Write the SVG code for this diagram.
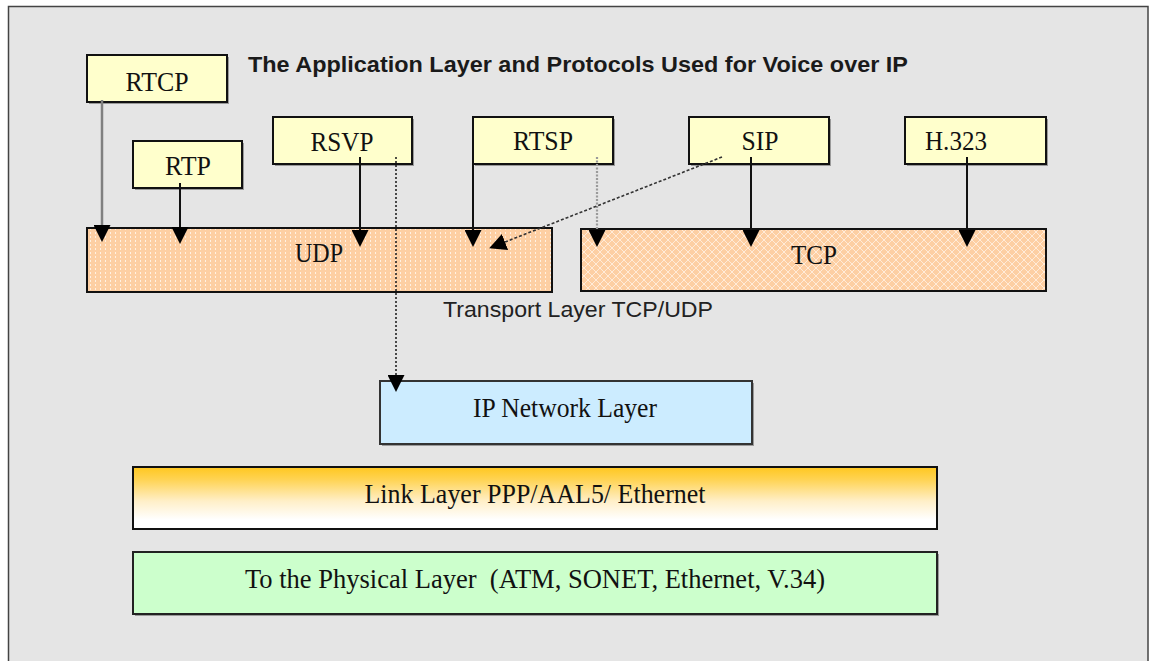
<svg xmlns="http://www.w3.org/2000/svg" width="1149" height="661" viewBox="0 0 1149 661">
  <style>
    .app { fill: #FFFFCC; stroke: #111; stroke-width: 2; }
    .sh { fill: #9a9a9a; }
    .lbl { font-family: "Liberation Serif", "Times New Roman", serif; font-size: 27px; fill: #111; text-anchor: middle; }
    .solid { stroke: #111; stroke-width: 2; fill: none; marker-end: url(#head); }
    .dot { stroke: #222; stroke-width: 1.6; stroke-dasharray: 2 2; fill: none; marker-end: url(#head); }
    .dotgray { stroke: #9a9a9a; stroke-width: 2.2; stroke-dasharray: 2 1.5; fill: none; marker-end: url(#head); }
    .dash { stroke: #333; stroke-width: 1.6; stroke-dasharray: 3 2; fill: none; marker-end: url(#head); }
  </style>
  <defs>
    <marker id="head" viewBox="0 0 17 17" refX="0" refY="8.5" markerWidth="17" markerHeight="17" markerUnits="userSpaceOnUse" orient="auto">
      <path d="M0,0 L17,8.5 L0,17 z" fill="#000"/>
    </marker>
    <!-- UDP fill: peach with fine vertical dotted lines -->
    <pattern id="udpFill" width="5" height="4" patternUnits="userSpaceOnUse">
      <rect width="5" height="4" fill="#FDCFA3"/>
      <rect x="0" y="0" width="1" height="2" fill="#FFF1E2"/>
    </pattern>
    <!-- TCP fill: peach with a light diamond lattice -->
    <pattern id="tcpFill" width="8" height="8" patternUnits="userSpaceOnUse">
      <rect width="8" height="8" fill="#FDCFA3"/>
      <path d="M0,4 L4,0 L8,4 L4,8 z" fill="none" stroke="#FFEBD8" stroke-width="1"/>
    </pattern>
    <linearGradient id="linkGrad" x1="0" y1="0" x2="0" y2="1">
      <stop offset="0" stop-color="#FFC71F"/>
      <stop offset="0.2" stop-color="#FFD352"/>
      <stop offset="0.55" stop-color="#FFEFC8"/>
      <stop offset="0.85" stop-color="#FFFFFF"/>
      <stop offset="1" stop-color="#FFFFFF"/>
    </linearGradient>
  </defs>

  <!-- page and frame -->
  <rect width="1149" height="661" fill="#FFFFFF"/>
  <rect x="8.5" y="6.5" width="1139.5" height="700" fill="#E5E5E5" stroke="#444" stroke-width="1.5"/>

  <!-- titles -->
  <text x="248" y="72" font-family="Liberation Sans, Arial, sans-serif" font-weight="bold" font-size="22" fill="#1a1a1a" textLength="660" lengthAdjust="spacingAndGlyphs">The Application Layer and Protocols Used for Voice over IP</text>
  <text x="443" y="317" font-family="Liberation Sans, Arial, sans-serif" font-size="22" fill="#222" textLength="270" lengthAdjust="spacingAndGlyphs">Transport Layer TCP/UDP</text>

  <!-- application protocols -->
  <g id="rtcp">
    <rect class="sh" x="89" y="57" width="140" height="47"/>
    <rect class="app" x="87" y="55" width="140" height="47"/>
    <text class="lbl" x="157" y="91" textLength="63" lengthAdjust="spacingAndGlyphs">RTCP</text>
  </g>
  <g id="rtp">
    <rect class="sh" x="135" y="143" width="109" height="47"/>
    <rect class="app" x="133" y="141" width="109" height="47"/>
    <text class="lbl" x="188" y="175" textLength="46" lengthAdjust="spacingAndGlyphs">RTP</text>
  </g>
  <g id="rsvp">
    <rect class="sh" x="275" y="119" width="139" height="47"/>
    <rect class="app" x="273" y="117" width="139" height="47"/>
    <text class="lbl" x="342" y="151" textLength="63" lengthAdjust="spacingAndGlyphs">RSVP</text>
  </g>
  <g id="rtsp">
    <rect class="sh" x="475" y="119" width="140" height="47"/>
    <rect class="app" x="473" y="117" width="140" height="47"/>
    <text class="lbl" x="543" y="150" textLength="60" lengthAdjust="spacingAndGlyphs">RTSP</text>
  </g>
  <g id="sip">
    <rect class="sh" x="691" y="119" width="140" height="47"/>
    <rect class="app" x="689" y="117" width="140" height="47"/>
    <text class="lbl" x="760" y="150" textLength="37" lengthAdjust="spacingAndGlyphs">SIP</text>
  </g>
  <g id="h323">
    <rect class="sh" x="907" y="119" width="141" height="47"/>
    <rect class="app" x="905" y="117" width="141" height="47"/>
    <text class="lbl" x="956" y="150" textLength="62" lengthAdjust="spacingAndGlyphs">H.323</text>
  </g>

  <!-- transport layer -->
  <g id="udp">
    <rect x="87" y="228" width="465" height="64" fill="url(#udpFill)" stroke="#111" stroke-width="2"/>
    <text class="lbl" x="319" y="262" textLength="48" lengthAdjust="spacingAndGlyphs">UDP</text>
  </g>
  <g id="tcp">
    <rect x="581" y="229" width="465" height="62" fill="url(#tcpFill)" stroke="#111" stroke-width="2"/>
    <text class="lbl" x="814" y="264" textLength="46" lengthAdjust="spacingAndGlyphs">TCP</text>
  </g>

  <!-- lower layers -->
  <g id="ip">
    <rect class="sh" x="382" y="383" width="372" height="63"/>
    <rect x="380" y="381" width="372" height="63" fill="#CCECFF" stroke="#333" stroke-width="2"/>
    <text class="lbl" x="565" y="417" textLength="184" lengthAdjust="spacingAndGlyphs">IP Network Layer</text>
  </g>
  <g id="link">
    <rect x="133" y="467" width="804" height="62" fill="url(#linkGrad)" stroke="#111" stroke-width="2"/>
    <text class="lbl" x="535" y="503" textLength="341" lengthAdjust="spacingAndGlyphs">Link Layer PPP/AAL5/ Ethernet</text>
  </g>
  <g id="physical">
    <rect class="sh" x="135" y="554" width="804" height="62"/>
    <rect x="133" y="552" width="804" height="62" fill="#CCFFCC" stroke="#222" stroke-width="2"/>
    <text class="lbl" x="535" y="588" textLength="580" lengthAdjust="spacingAndGlyphs" xml:space="preserve">To the Physical Layer  (ATM, SONET, Ethernet, V.34)</text>
  </g>

  <!-- connectors -->
  <g id="connectors">
    <line x1="102" y1="100" x2="102" y2="225" stroke="#808080" stroke-width="2.5" marker-end="url(#head)"/>
    <line class="solid" x1="180" y1="183" x2="180" y2="227"/>
    <line class="solid" x1="360" y1="157" x2="360" y2="230"/>
    <line class="dot" x1="396" y1="157" x2="396" y2="375"/>
    <line class="solid" x1="473" y1="157" x2="473" y2="230"/>
    <line class="dotgray" x1="597" y1="157" x2="597" y2="230"/>
    <line class="dash" x1="722" y1="157" x2="505" y2="242"/>
    <line class="solid" x1="751" y1="157" x2="751" y2="230"/>
    <line class="solid" x1="967" y1="157" x2="967" y2="230"/>
  </g>
</svg>
